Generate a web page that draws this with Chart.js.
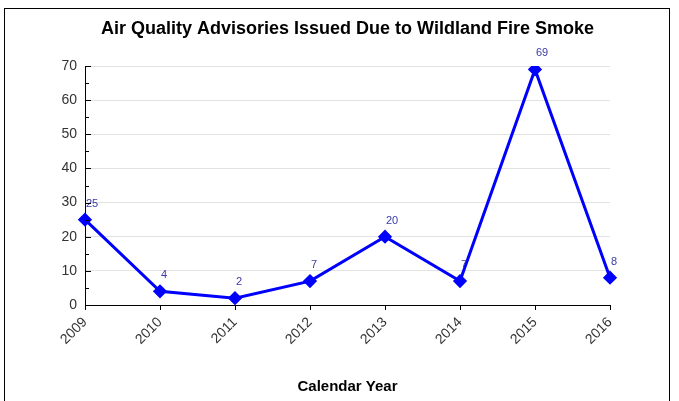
<!DOCTYPE html>
<html>
<head>
<meta charset="utf-8">
<script src="https://cdn.jsdelivr.net/npm/chart.js@4.4.1/dist/chart.umd.min.js"></script>
<style>
  html, body { margin: 0; padding: 0; background: #fff; }
  #wrap { position: relative; width: 679px; height: 401px; }
  #frame { position: absolute; left: 4px; top: 8px; width: 664px; height: 400px;
           border: 1px solid #000; border-bottom: none; pointer-events: none; }
</style>
</head>
<body>
<div id="wrap">
  <canvas id="lineChart" width="679" height="401"></canvas>
  <div id="frame"></div>
</div>
<script>
// ========================== DATA ==============================
const years = ['2009', '2010', '2011', '2012', '2013', '2014', '2015', '2016'];
const advisories = [25, 4, 2, 7, 20, 7, 69, 8];
const yTicks = [0, 10, 20, 30, 40, 50, 60, 70];

// ========================== PLUGINS ===========================
// small tick marks drawn inside the plot on the y axis (major every 10, minor every 5)
const innerTicks = {
  id: 'innerTicks',
  afterDraw(chart) {
    const y = chart.scales.y;
    const ctx = chart.ctx;
    ctx.save();
    ctx.strokeStyle = '#000';
    ctx.lineWidth = 1;
    for (let v = 0; v <= 70; v += 5) {
      const py = Math.round(y.getPixelForValue(v)) + 0.5;
      const len = v % 10 === 0 ? 6 : 4;
      ctx.beginPath();
      ctx.moveTo(y.right, py);
      ctx.lineTo(y.right + len, py);
      ctx.stroke();
    }
    ctx.restore();
  }
};

// value labels above each point
const valueLabels = {
  id: 'valueLabels',
  afterDatasetsDraw(chart) {
    const ctx = chart.ctx;
    const meta = chart.getDatasetMeta(0);
    ctx.save();
    ctx.font = '11px "Liberation Sans", Arial, sans-serif';
    ctx.fillStyle = '#3a3aa6';
    ctx.textAlign = 'left';
    ctx.textBaseline = 'middle';
    meta.data.forEach((pt, i) => {
      ctx.fillText(String(advisories[i]), pt.x + 1, pt.y - 16);
    });
    ctx.restore();
  }
};

// ========================== CHART =============================
new Chart(document.getElementById('lineChart'), {
  type: 'line',
  data: {
    labels: years,
    datasets: [{
      data: advisories,
      borderColor: '#0000ff',
      backgroundColor: '#0000ff',
      borderWidth: 3,
      pointStyle: 'rectRot',
      pointRadius: 5,
      pointBackgroundColor: '#0000ff',
      pointBorderColor: '#0000ff',
      tension: 0
    }]
  },
  options: {
    responsive: false,
    animation: false,
    devicePixelRatio: 1,
    layout: { padding: { left: 0, right: 69, top: 0, bottom: 0 } },
    plugins: {
      legend: { display: false },
      tooltip: { enabled: false },
      title: {
        display: true,
        fullSize: false,
        text: 'Air Quality Advisories Issued Due to Wildland Fire Smoke',
        color: '#000',
        font: { family: '"Liberation Sans", Arial, sans-serif', size: 18, weight: 'bold' },
        padding: { top: 18, bottom: 26.4 }
      }
    },
    scales: {
      x: {
        offset: false,
        grid: { drawOnChartArea: false, drawTicks: true, tickLength: 5, color: '#000' },
        border: { display: true, color: '#000', width: 1 },
        ticks: {
          color: '#333',
          font: { family: '"Liberation Sans", Arial, sans-serif', size: 14 },
          minRotation: 45, maxRotation: 45, padding: 4
        },
        title: {
          display: true,
          text: 'Calendar Year',
          color: '#000',
          font: { family: '"Liberation Sans", Arial, sans-serif', size: 15, weight: 'bold' },
          padding: { top: 0, bottom: 5 }
        },
        afterFit(scale) { scale.height = 96; }
      },
      y: {
        min: 0, max: 70,
        afterBuildTicks(scale) { scale.ticks = yTicks.map(v => ({ value: v })); },
        grid: { color: '#e2e2e2', drawTicks: false },
        border: { display: true, color: '#000', width: 1 },
        ticks: {
          color: '#333',
          padding: 8,
          font: { family: '"Liberation Sans", Arial, sans-serif', size: 14 }
        },
        afterFit(scale) { scale.width = 85; }
      }
    }
  },
  plugins: [innerTicks, valueLabels]
});
</script>
</body>
</html>
